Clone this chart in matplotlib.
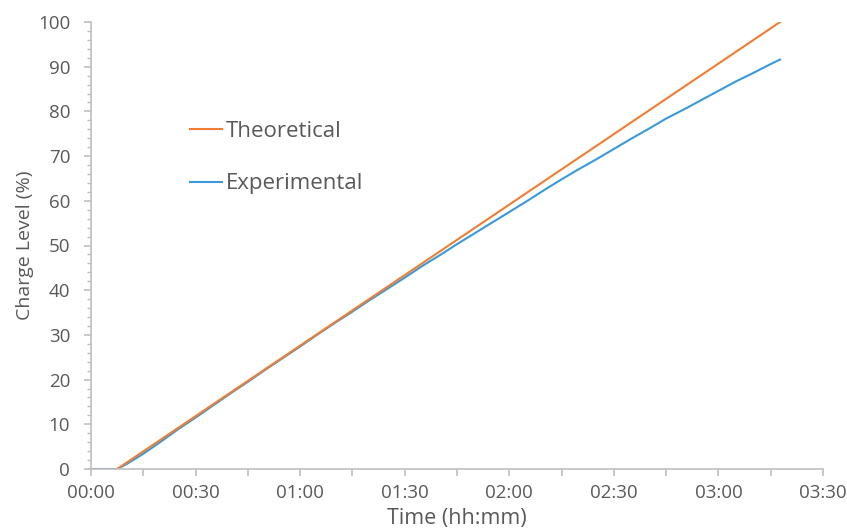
import matplotlib.pyplot as plt
import matplotlib.ticker as plticker

# time in minutes, charge level in %
theo_time = [7.5, 197.7]
theo_level = [0, 100]

exp_time = [0, 5, 7.5, 10, 15, 20, 25, 30, 35, 40, 45, 50, 55, 60, 65, 70, 75, 80,
            85, 90, 95, 100, 105, 110, 115, 120, 125, 130, 135, 140, 145, 150,
            155, 160, 165, 170, 175, 180, 185, 190, 195, 197.7]
exp_level = [0, 0, 0, 1.0, 3.4, 6.1, 8.9, 11.5, 14.2, 16.9, 19.5, 22.2, 24.8, 27.4,
             30.1, 32.7, 35.2, 37.8, 40.3, 42.8, 45.4, 47.8, 50.3, 52.7, 55.1, 57.5,
             59.9, 62.4, 64.8, 67.1, 69.3, 71.6, 73.9, 76.1, 78.4, 80.4, 82.5, 84.6,
             86.7, 88.6, 90.6, 91.6]

x_ticks = [0, 30, 60, 90, 120, 150, 180, 210]
x_labels = ['00:00', '00:30', '01:00', '01:30', '02:00', '02:30', '03:00', '03:30']

grey = '#595959'
axis_col = '#bfbfbf'
plt.rcParams['font.family'] = ['Open Sans', 'DejaVu Sans']

fig = plt.figure(figsize=(8.47, 5.30), dpi=100)
ax = fig.add_axes([91/847, 1-469/530, (823-91)/847, (469-22)/530])

l_exp, = ax.plot(exp_time, exp_level, color='#3a9ad9', linewidth=1.5, label='Experimental')
l_theo, = ax.plot(theo_time, theo_level, color='#f07d32', linewidth=1.5, label='Theoretical')

ax.set_xlim(0, 210)
ax.set_ylim(0, 100)
ax.set_xticks(x_ticks)
ax.set_xticklabels(x_labels)
ax.xaxis.set_minor_locator(plticker.MultipleLocator(15))
ax.yaxis.set_major_locator(plticker.MultipleLocator(10))
ax.yaxis.set_minor_locator(plticker.MultipleLocator(2))

for s in ['top', 'right']:
    ax.spines[s].set_visible(False)
for s in ['left', 'bottom']:
    ax.spines[s].set_color(axis_col)
    ax.spines[s].set_linewidth(1.2)

ax.tick_params(axis='both', which='major', colors=axis_col, labelcolor=grey,
               labelsize=13.5, length=5, width=1.2)
ax.tick_params(axis='y', which='major', pad=10)
ax.tick_params(axis='x', which='major', pad=6)
ax.tick_params(axis='y', which='minor', colors=axis_col, length=3, width=1)
ax.tick_params(axis='x', which='minor', colors=axis_col, length=5, width=1.2)

ax.set_xlabel('Time (hh:mm)', color=grey, fontsize=15.5, labelpad=4)
ax.set_ylabel('Charge Level (%)', color=grey, fontsize=14, labelpad=3)

leg = ax.legend(handles=[l_theo, l_exp], loc='upper left', bbox_to_anchor=(0.135, 0.778),
                frameon=False, fontsize=16, labelspacing=1.4, handlelength=1.45,
                handletextpad=0.15, borderaxespad=0, borderpad=0)
for t in leg.get_texts():
    t.set_color(grey)

fig.savefig('out.png', dpi=100)
